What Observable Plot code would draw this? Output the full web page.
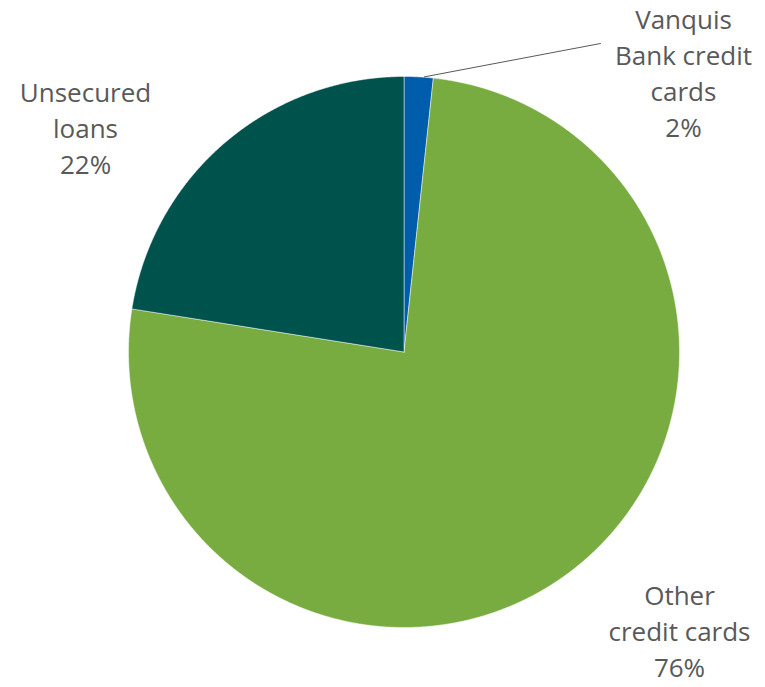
<!DOCTYPE html>
<html>
<head>
<meta charset="utf-8">
<script src="https://cdn.jsdelivr.net/npm/d3@7"></script>
<script src="https://cdn.jsdelivr.net/npm/@observablehq/plot@0.6"></script>
<style>
  html, body { margin: 0; padding: 0; background: #ffffff; }
  #chart svg { display: block; }
</style>
</head>
<body>
<div id="chart"></div>
<script>
// Data
const categories = ["Vanquis Bank credit cards", "Other credit cards", "Unsecured loans"];
const shares = [1.7, 75.8, 22.5];
const labelTexts = ["Vanquis\nBank credit\ncards\n2%", "Other\ncredit cards\n76%", "Unsecured\nloans\n22%"];
const colors = ["#005DAB", "#78AC41", "#00534D"];

// Label anchor positions (in pie units, radius = 1)
const labelX = [1.0145, 1.0, -1.156];
const labelY = [1.018, -1.0065, 0.819];

const arcs = d3.pie().sort(null).value(d => d)(shares);

// Build slice outlines from the pie angles
const slicePoints = [];
arcs.forEach((a, i) => {
  const cat = categories[i];
  slicePoints.push({cat, x: 0, y: 0});
  const steps = Math.max(2, Math.ceil((a.endAngle - a.startAngle) / (Math.PI / 720)));
  for (let k = 0; k <= steps; k++) {
    const t = a.startAngle + (a.endAngle - a.startAngle) * k / steps;
    slicePoints.push({cat, x: Math.sin(t), y: Math.cos(t)});
  }
  slicePoints.push({cat, x: 0, y: 0});
});

const labels = categories.map((c, i) => ({cat: c, text: labelTexts[i], x: labelX[i], y: labelY[i]}));

// Leader line for the small slice
const small = arcs[0];
const mid = (small.startAngle + small.endAngle) / 2;
const leader = [
  {x: Math.sin(mid) * 1.0 + 0.02, y: Math.cos(mid) * 1.0},
  {x: 0.7132, y: 1.1198}
];

const chart = Plot.plot({
  width: 765,
  height: 687,
  margin: 0,
  style: {background: "#ffffff"},
  x: {domain: [-1, 1], range: [128, 679], axis: null},
  y: {domain: [-1, 1], range: [627, 76], axis: null},
  color: {domain: categories, range: colors},
  marks: [
    Plot.line(slicePoints, {x: "x", y: "y", z: "cat", fill: "cat", stroke: "#ffffff", strokeWidth: 0.6, strokeOpacity: 0.8}),
    Plot.line(leader, {x: "x", y: "y", stroke: "#595959", strokeWidth: 1}),
    Plot.text(labels, {
      x: "x", y: "y", text: "text",
      fontFamily: "Open Sans", fontSize: 26, fill: "#595959",
      lineHeight: 1.385, textAnchor: "middle", lineAnchor: "middle"
    })
  ]
});

document.getElementById("chart").appendChild(chart);
</script>
</body>
</html>
